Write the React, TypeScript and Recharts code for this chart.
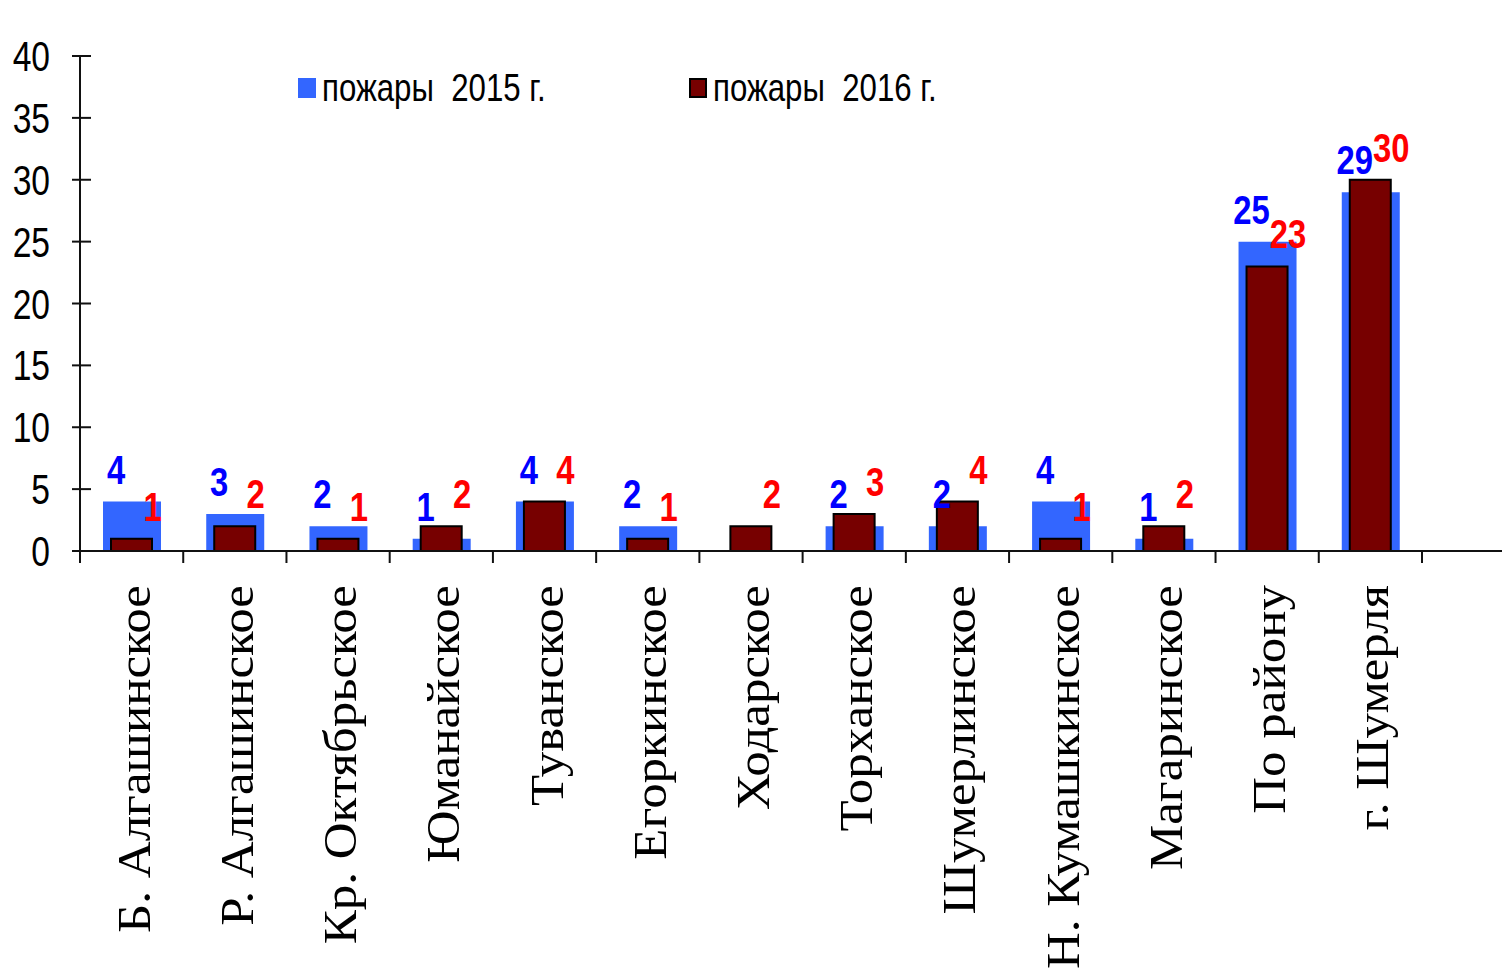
import React from 'react';
import { BarChart, Bar, XAxis, YAxis, Legend, LabelList } from 'recharts';

// ---- data ----
const categories = [
  'Б. Алгашинское',
  'Р. Алгашинское',
  'Кр. Октябрьское',
  'Юманайское',
  'Туванское',
  'Егоркинское',
  'Ходарское',
  'Торханское',
  'Шумерлинское',
  'Н. Кумашкинское',
  'Магаринское',
  'По району',
  'г. Шумерля',
];
const fires2015 = [4, 3, 2, 1, 4, 2, 0, 2, 2, 4, 1, 25, 29];
const fires2016 = [1, 2, 1, 2, 4, 1, 2, 3, 4, 1, 2, 23, 30];
const yTicks = [0, 5, 10, 15, 20, 25, 30, 35, 40];
const seriesNames = ['пожары  2015 г.', 'пожары  2016 г.'];

const data = categories.map((name, i) => ({
  name,
  v2015: fires2015[i],
  v2016: fires2016[i],
}));

// ---- layout constants ----
const CHART_W = 1510;
const CHART_H = 976;
const YAXIS_W = 80;
const PAD_RIGHT = 88;
const HALF_BAND = (CHART_W - YAXIS_W - PAD_RIGHT) / categories.length / 2;

const BLUE = '#3366FF';
const MAROON = '#770000';
const AXIS = '#111111';
const SANS = "'Liberation Sans', Arial, sans-serif";
const SERIF = "'Liberation Serif', 'Times New Roman', serif";

const XTick = (props: any) => {
  const { x, y, payload, index } = props;
  const isLast = index === categories.length - 1;
  return (
    <g>
      <line x1={x - HALF_BAND} x2={x - HALF_BAND} y1={y} y2={y + 12} stroke={AXIS} strokeWidth={2} />
      {isLast && (
        <line x1={x + HALF_BAND} x2={x + HALF_BAND} y1={y} y2={y + 12} stroke={AXIS} strokeWidth={2} />
      )}
      <text
        transform={`translate(${x + 18},${y + 34}) scale(0.9,1) rotate(-90)`}
        textAnchor="end"
        fontFamily={SERIF}
        fontSize={51}
        fill="#000"
      >
        {payload.value}
      </text>
    </g>
  );
};

const YTick = (props: any) => {
  const { x, y, payload } = props;
  return (
    <g>
      <line x1={x - 8} x2={x + 11} y1={y} y2={y} stroke={AXIS} strokeWidth={2} />
      <text
        transform={`translate(${x - 30},${y + 15}) scale(0.8,1)`}
        textAnchor="end"
        fontFamily={SANS}
        fontSize={42}
        fill="#000"
      >
        {payload.value}
      </text>
    </g>
  );
};

const makeLabel = (color: string, dx: number) => (props: any) => {
  const { x, y, width, value } = props;
  if (!value) return null;
  const cx = Number(x) + Number(width) / 2 + dx;
  return (
    <text
      transform={`translate(${cx},${Number(y) - 18}) scale(0.8,1)`}
      textAnchor="middle"
      fontFamily={SANS}
      fontWeight="bold"
      fontSize={41}
      fill={color}
    >
      {value}
    </text>
  );
};

const LegendContent = (props: any) => {
  const { payload } = props;
  return (
    <div style={{ display: 'flex', alignItems: 'center' }}>
      {(payload || []).map((e: any, i: number) => (
        <div
          key={i}
          style={{ display: 'flex', alignItems: 'center', width: i === 0 ? 391 : 'auto' }}
        >
          <span
            style={{
              display: 'inline-block',
              width: 18,
              height: 20,
              background: e.color,
              border: i === 1 ? '2px solid #000' : 'none',
              boxSizing: 'border-box',
            }}
          />
          <span
            style={{
              display: 'inline-block',
              fontFamily: SANS,
              fontSize: 39,
              lineHeight: '40px',
              color: '#000',
              whiteSpace: 'pre',
              marginLeft: 6,
              transform: 'scaleX(0.8)',
              transformOrigin: 'left center',
            }}
          >
            {e.value}
          </span>
        </div>
      ))}
    </div>
  );
};

export default function App() {
  return (
    <div
      style={{
        position: 'relative',
        width: CHART_W,
        height: CHART_H,
        margin: -8,
        overflow: 'hidden',
        background: '#d6e5f4',
      }}
    >
      <div
        style={{
          position: 'absolute',
          left: 7,
          top: 8,
          width: CHART_W - 7,
          height: CHART_H - 8,
          background: '#ffffff',
        }}
      />
      <div style={{ position: 'absolute', left: 0, top: 0 }}>
        <BarChart
          width={CHART_W}
          height={CHART_H}
          data={data}
          margin={{ top: 56, right: 0, left: 0, bottom: 0 }}
        >
          <XAxis
            xAxisId="b"
            dataKey="name"
            interval={0}
            height={CHART_H - 56 - 495}
            padding={{ left: 0, right: PAD_RIGHT }}
            axisLine={{ stroke: AXIS, strokeWidth: 2 }}
            tickLine={false}
            tickSize={0}
            tickMargin={0}
            tick={<XTick />}
          />
          <XAxis xAxisId="r" dataKey="name" hide padding={{ left: 0, right: PAD_RIGHT }} />
          <YAxis
            width={YAXIS_W}
            domain={[0, 40]}
            ticks={yTicks}
            interval={0}
            axisLine={{ stroke: AXIS, strokeWidth: 2 }}
            tickLine={false}
            tickSize={0}
            tickMargin={0}
            tick={<YTick />}
          />
          <Legend
            layout="vertical"
            align="center"
            verticalAlign="middle"
            content={<LegendContent />}
            wrapperStyle={{ position: 'absolute', top: 68, left: 298, width: 800 }}
          />
          <Bar
            xAxisId="b"
            dataKey="v2015"
            name={seriesNames[0]}
            barSize={58}
            fill={BLUE}
            isAnimationActive={false}
          >
            <LabelList dataKey="v2015" content={makeLabel('#0000FF', -16)} />
          </Bar>
          <Bar
            xAxisId="r"
            dataKey="v2016"
            name={seriesNames[1]}
            barSize={41}
            fill={MAROON}
            stroke="#000"
            strokeWidth={2}
            isAnimationActive={false}
          >
            <LabelList dataKey="v2016" content={makeLabel('#FF0000', 21)} />
          </Bar>
        </BarChart>
      </div>
    </div>
  );
}
